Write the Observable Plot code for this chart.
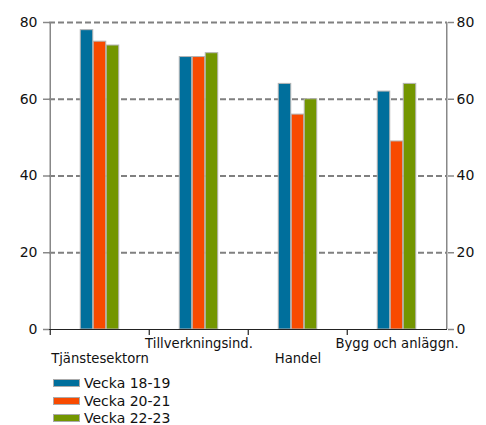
<!DOCTYPE html>
<html><head><meta charset="utf-8">
<script src="https://cdn.jsdelivr.net/npm/d3@7"></script>
<script src="https://cdn.jsdelivr.net/npm/@observablehq/plot@0.6"></script>
<style>
body{margin:0;background:#fff;font-family:"DejaVu Sans",Verdana,sans-serif;}
#legend{padding-left:53px;padding-top:2px;}
.row{display:flex;align-items:center;height:17.7px;font-size:14px;color:#111;}
.sw{width:25px;height:6px;border:1px solid #aaa;margin-right:4px;}
</style>
</head><body>
<div id="chart"></div>
<div id="legend"></div>
<script>
const categories = ["Tjänstesektorn","Tillverkningsind.","Handel","Bygg och anläggn."];
const series = ["Vecka 18-19","Vecka 20-21","Vecka 22-23"];
const v1819 = [78,71,64,62];
const v2021 = [75,71,56,49];
const v2223 = [74,72,60,64];
const yTicks = [0,20,40,60,80];
const gridTicks = [20,40,60,80];
const colors = ["#006f9c","#f84a00","#739600"];

const values = [v1819, v2021, v2223];
const W = 486, H = 372, mL = 49, mR = 39, mT = 22, mB = 43;
const band = (W - mL - mR) / categories.length;
const barW = 13;
const outer = (band - barW * series.length) / 2;

const barMarks = series.map((s, i) => Plot.barY(
  categories.map((c, j) => ({cat: c, value: values[i][j]})),
  {x: "cat", y: "value", fill: colors[i], stroke: "#b4b4b4", strokeWidth: 1,
   insetLeft: outer + barW * i, insetRight: band - outer - barW * (i + 1)}
));

const chart = Plot.plot({
  width: W, height: H,
  marginLeft: mL, marginRight: mR, marginTop: mT, marginBottom: mB,
  style: {fontFamily: "DejaVu Sans, Verdana, sans-serif", background: "white"},
  x: {type: "band", domain: categories, padding: 0, axis: null},
  y: {domain: [0, 80], axis: null},
  marks: [
    Plot.ruleY(gridTicks, {stroke: "#808080", strokeDasharray: "6,3", strokeWidth: 1.8}),
    ...barMarks,
    Plot.ruleY([0], {stroke: "#222", strokeWidth: 1.2}),
    Plot.ruleX([categories[0]], {dx: -band / 2, stroke: "#888", strokeWidth: 1.5}),
    Plot.ruleX([categories[categories.length - 1]], {dx: band / 2, stroke: "#888", strokeWidth: 1.5}),
    Plot.ruleX(categories, {dx: -band / 2, stroke: "#222", strokeWidth: 1.2, insetTop: H - mT - mB, insetBottom: -6}),
    Plot.axisY(yTicks, {anchor: "left", tickSize: 6, tickPadding: 6, fontSize: 14, fill: "#111", stroke: "#888", strokeWidth: 1.5, label: null}),
    Plot.axisY(yTicks, {anchor: "right", tickSize: 6, tickPadding: 3, fontSize: 14, fill: "#111", stroke: "#888", strokeWidth: 1.5, label: null}),
    Plot.text(categories.filter((d, i) => i % 2 === 1), {x: d => d, text: d => d, frameAnchor: "bottom", lineAnchor: "middle", dy: 14.4, fontSize: 13.2, fill: "#111"}),
    Plot.text(categories.filter((d, i) => i % 2 === 0), {x: d => d, text: d => d, frameAnchor: "bottom", lineAnchor: "middle", dy: 28.9, fontSize: 13.2, fill: "#111"})
  ]
});
document.getElementById("chart").appendChild(chart);

const legend = document.getElementById("legend");
series.forEach((s, i) => {
  const row = document.createElement("div");
  row.className = "row";
  const sw = document.createElement("div");
  sw.className = "sw";
  sw.style.background = colors[i];
  const t = document.createElement("span");
  t.textContent = s;
  row.appendChild(sw); row.appendChild(t);
  legend.appendChild(row);
});
</script>
</body></html>
